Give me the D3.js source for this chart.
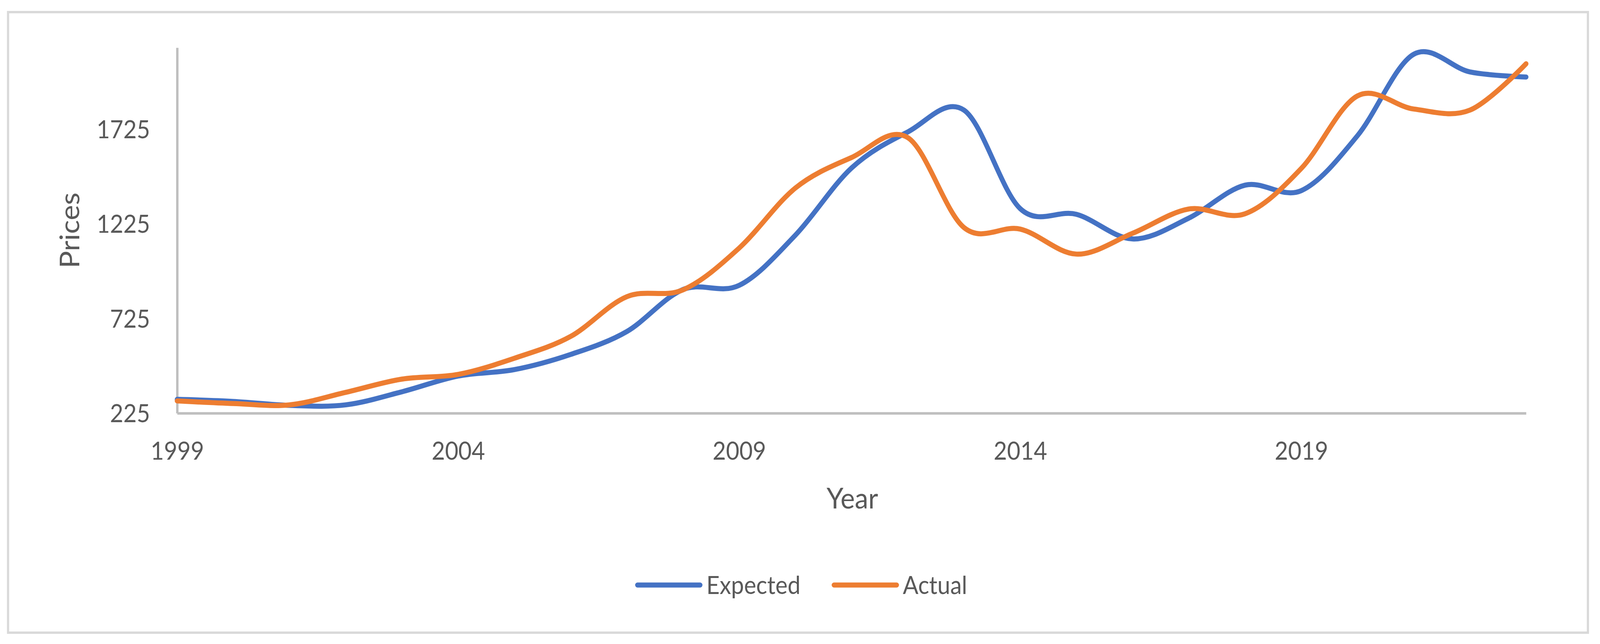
<!DOCTYPE html>
<meta charset="utf-8">

<script src="https://d3js.org/d3.v7.min.js"></script>

<style type="text/css">

html, body {
  margin: 0;
  padding: 0;
  overflow: hidden;
  background: #fff;
}

svg {
  display: block;
}

text {
  font-family: "Lato", "Open Sans", sans-serif;
  fill: #595959;
}

</style>

<body>
</body>

<script>

// values, one per year
var years = [1999, 2000, 2001, 2002, 2003, 2004, 2005, 2006, 2007, 2008, 2009, 2010,
             2011, 2012, 2013, 2014, 2015, 2016, 2017, 2018, 2019, 2020, 2021, 2022, 2023];

var expected = [298, 287, 266, 269, 338, 421, 455, 535, 656, 878, 900, 1165,
                1520, 1710, 1825, 1305, 1275, 1145, 1255, 1429, 1400, 1690, 2120, 2027, 2000];

var actual = [290, 276, 269, 335, 405, 430, 515, 630, 840, 876, 1097, 1414,
              1575, 1680, 1205, 1197, 1065, 1175, 1303, 1278, 1517, 1900, 1831, 1825, 2070];

var seriesNames = ["Expected", "Actual"];
var xTicks = [1999, 2004, 2009, 2014, 2019];
var yTicks = [225, 725, 1225, 1725];

var colors = {"Expected": "#4472C4", "Actual": "#ED7D31"};

// *1* format data
var series = seriesNames.map(function(name, i) {
  var vals = i === 0 ? expected : actual;
  return {
    name: name,
    values: years.map(function(y, j) { return {year: y, price: vals[j]}; })
  };
});

// *2* create svg, stretched over the whole window
var width = 4372;
var height = 1649;

var svg = d3.select("body").append("svg")
    .attr("viewBox", "0 0 " + width + " " + height)
    .attr("preserveAspectRatio", "none")
    .style("width", "100vw")
    .style("height", "100vh");

svg.append("rect")
    .attr("width", width)
    .attr("height", height)
    .attr("fill", "#fff");

// chart border
svg.append("rect")
    .attr("x", 22)
    .attr("y", 31)
    .attr("width", 4339 - 22)
    .attr("height", 1620 - 31)
    .attr("fill", "none")
    .attr("stroke", "#D9D9D9")
    .attr("stroke-width", 6);

// *3* scales
var x = d3.scaleLinear()
    .domain([1999, 2023])
    .range([484, 4170]);

var y = d3.scaleLinear()
    .domain([225, 2155])
    .range([1058, 122]);

// *4* axes
var yAxis = svg.append("g")
    .attr("transform", "translate(484,0)")
    .call(d3.axisLeft(y).tickValues(yTicks).tickFormat(d3.format("d"))
      .tickSize(0).tickSizeOuter(0).tickPadding(74));

var xAxis = svg.append("g")
    .attr("transform", "translate(0,1058)")
    .call(d3.axisBottom(x).tickValues(xTicks).tickFormat(d3.format("d"))
      .tickSize(0).tickSizeOuter(0));

[yAxis, xAxis].forEach(function(ax) {
  ax.select(".domain")
    .attr("stroke", "#BFBFBF")
    .attr("stroke-width", 6.5);
  ax.selectAll("text")
    .style("font-size", "63px")
    .attr("fill", "#595959");
});

yAxis.selectAll("text").attr("dy", "0.36em");
xAxis.selectAll("text").attr("y", 119).attr("dy", 0);

// axis titles
svg.append("text")
    .attr("transform", "translate(217,590) rotate(-90)")
    .attr("text-anchor", "middle")
    .style("font-size", "74px")
    .text("Prices");

svg.append("text")
    .attr("x", 2329)
    .attr("y", 1302)
    .attr("text-anchor", "middle")
    .style("font-size", "74px")
    .text("Year");

// *5* lines (smoothed like the spreadsheet)
var line = d3.line()
    .curve(d3.curveCardinal.tension(0))
    .x(function(d) { return x(d.year); })
    .y(function(d) { return y(d.price); });

svg.selectAll(".priceLine")
  .data(series)
  .enter().append("path")
    .attr("class", "priceLine")
    .attr("d", function(d) { return line(d.values); })
    .attr("fill", "none")
    .attr("stroke", function(d) { return colors[d.name]; })
    .attr("stroke-width", 13)
    .attr("stroke-linecap", "round")
    .attr("stroke-linejoin", "round");

// *6* legend
var legendX = [1742, 2279];

var legend = svg.selectAll(".legendItem")
  .data(series)
  .enter().append("g")
    .attr("class", "legendItem")
    .attr("transform", function(d, i) { return "translate(" + legendX[i] + ",1498)"; });

legend.append("line")
    .attr("x1", 0)
    .attr("x2", 171)
    .attr("stroke", function(d) { return colors[d.name]; })
    .attr("stroke-width", 13)
    .attr("stroke-linecap", "round");

legend.append("text")
    .attr("x", 188)
    .attr("y", 23)
    .style("font-size", "63px")
    .text(function(d) { return d.name; });

</script>
